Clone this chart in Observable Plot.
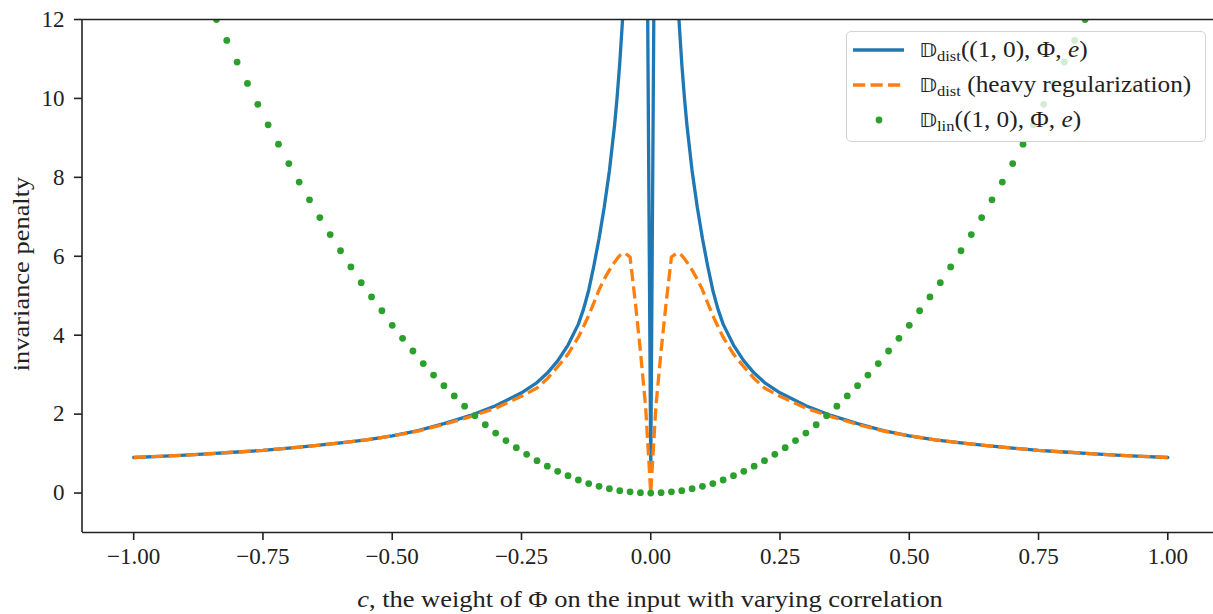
<!DOCTYPE html>
<html><head><meta charset="utf-8">
<script src="https://cdn.jsdelivr.net/npm/d3@7"></script>
<script src="https://cdn.jsdelivr.net/npm/@observablehq/plot@0.6"></script>
<style>
body{margin:0;background:#fff;}
#wrap{position:relative;width:1213px;height:614px;overflow:hidden;font-family:"Liberation Serif","DejaVu Serif",serif;color:#222;}
#legend{position:absolute;left:846px;top:31px;width:360px;height:111px;background:rgba(255,255,255,0.8);border:1.5px solid #d3d3d3;border-radius:5px;box-sizing:border-box;}
.row{position:absolute;left:0;height:30px;width:100%;}
.row svg{position:absolute;left:0;top:0;}
.row .t{position:absolute;left:72px;top:0;line-height:30px;font-size:23px;white-space:nowrap;transform:scaleX(1.1);transform-origin:0 50%;}
.bb{font-family:"DejaVu Sans","Noto Sans",sans-serif;font-size:20px;}
sub{font-size:15px;vertical-align:-4px;line-height:0;}
#ylab{position:absolute;left:22px;top:274px;transform:translate(-50%,-50%) rotate(-90deg) scaleX(1.15);font-size:23px;white-space:nowrap;}
#xlab{position:absolute;left:650px;top:600px;transform:translate(-50%,-50%) scaleX(1.15);font-size:23px;white-space:nowrap;}
</style></head><body><div id="wrap"></div>
<script>
// c values for the two D_dist curves
const cDist = [-1, -0.95, -0.9, -0.85, -0.8, -0.75, -0.7, -0.65, -0.6, -0.55, -0.5, -0.45, -0.4, -0.35, -0.3, -0.25, -0.22, -0.2, -0.18, -0.16, -0.14, -0.13, -0.12, -0.11, -0.1, -0.09, -0.08, -0.07, -0.065, -0.06, -0.055, -0.05, -0.04, -0.03, -0.02, -0.01,
  0,
  0.01, 0.02, 0.03, 0.04, 0.05, 0.055, 0.06, 0.065, 0.07, 0.08, 0.09, 0.1, 0.11, 0.12, 0.13, 0.14, 0.16, 0.18, 0.2, 0.22, 0.25, 0.3, 0.35, 0.4, 0.45, 0.5, 0.55, 0.6, 0.65, 0.7, 0.75, 0.8, 0.85, 0.9, 0.95, 1];
// D_dist((1,0), Phi, e)
const dist = [0.90, 0.93, 0.96, 1.00, 1.04, 1.08, 1.14, 1.20, 1.27, 1.35, 1.45, 1.58, 1.76, 1.96, 2.21, 2.54, 2.80, 3.04, 3.35, 3.75, 4.28, 4.66, 5.14, 5.76, 6.45, 7.24, 8.16, 9.32, 10.04, 10.88, 11.9, 13.05, 15.8, 19, 24, 20,
  0.6,
  20, 24, 19, 15.8, 13.05, 11.9, 10.88, 10.04, 9.32, 8.16, 7.24, 6.45, 5.76, 5.14, 4.66, 4.28, 3.75, 3.35, 3.04, 2.80, 2.54, 2.21, 1.96, 1.76, 1.58, 1.45, 1.35, 1.27, 1.20, 1.14, 1.08, 1.04, 1.00, 0.96, 0.93, 0.90];
// D_dist (heavy regularization)
const distHeavy = [0.90, 0.93, 0.96, 1.00, 1.04, 1.08, 1.14, 1.20, 1.27, 1.35, 1.45, 1.57, 1.74, 1.93, 2.15, 2.45, 2.66, 2.90, 3.20, 3.52, 3.95, 4.22, 4.50, 4.82, 5.15, 5.42, 5.65, 5.85, 5.94, 6.02, 6.07, 6.08, 5.98, 4.85, 3.60, 2.20,
  0,
  2.20, 3.60, 4.85, 5.98, 6.08, 6.07, 6.02, 5.94, 5.85, 5.65, 5.42, 5.15, 4.82, 4.50, 4.22, 3.95, 3.52, 3.20, 2.90, 2.66, 2.45, 2.15, 1.93, 1.74, 1.57, 1.45, 1.35, 1.27, 1.20, 1.14, 1.08, 1.04, 1.00, 0.96, 0.93, 0.90];
// c values for D_lin (dots)
const cLin = [-0.84, -0.82, -0.80, -0.78, -0.76, -0.74, -0.72, -0.70, -0.68, -0.66, -0.64, -0.62, -0.60, -0.58, -0.56, -0.54, -0.52, -0.50, -0.48, -0.46, -0.44, -0.42, -0.40, -0.38, -0.36, -0.34, -0.32, -0.30, -0.28, -0.26, -0.24, -0.22, -0.20, -0.18, -0.16, -0.14, -0.12, -0.10, -0.08, -0.06, -0.04, -0.02,
  0,
  0.02, 0.04, 0.06, 0.08, 0.10, 0.12, 0.14, 0.16, 0.18, 0.20, 0.22, 0.24, 0.26, 0.28, 0.30, 0.32, 0.34, 0.36, 0.38, 0.40, 0.42, 0.44, 0.46, 0.48, 0.50, 0.52, 0.54, 0.56, 0.58, 0.60, 0.62, 0.64, 0.66, 0.68, 0.70, 0.72, 0.74, 0.76, 0.78, 0.80, 0.82, 0.84];
// D_lin((1,0), Phi, e)
const lin = [12.0, 11.47, 10.92, 10.38, 9.85, 9.33, 8.84, 8.35, 7.88, 7.43, 6.98, 6.55, 6.14, 5.73, 5.33, 4.97, 4.62, 4.25, 3.92, 3.60, 3.28, 2.99, 2.72, 2.46, 2.20, 1.96, 1.73, 1.52, 1.33, 1.15, 0.98, 0.82, 0.68, 0.55, 0.44, 0.33, 0.24, 0.17, 0.11, 0.06, 0.03, 0.01,
  0,
  0.01, 0.03, 0.06, 0.11, 0.17, 0.24, 0.33, 0.44, 0.55, 0.68, 0.82, 0.98, 1.15, 1.33, 1.52, 1.73, 1.96, 2.20, 2.46, 2.72, 2.99, 3.28, 3.60, 3.92, 4.25, 4.62, 4.97, 5.33, 5.73, 6.14, 6.55, 6.98, 7.43, 7.88, 8.35, 8.84, 9.33, 9.85, 10.38, 10.92, 11.47, 12.0];

const xTicks = [-1, -0.75, -0.5, -0.25, 0, 0.25, 0.5, 0.75, 1];
const yTicks = [0, 2, 4, 6, 8, 10, 12];
const colors = ["#1f77b4", "#ff7f0e", "#2ca02c"];

const distData = cDist.map((c, i) => ({c, v: dist[i]}));
const heavyData = cDist.map((c, i) => ({c, v: distHeavy[i]}));
const linData = cLin.map((c, i) => ({c, v: lin[i]}));

const fmt = d => d.toFixed(2).replace("-", "\u2212");

const chart = Plot.plot({
  width: 1213, height: 614,
  marginLeft: 82, marginTop: 19, marginBottom: 82, marginRight: 0,
  x: {domain: [-1.1, 1.1], range: [81.5, 1219]},
  y: {domain: [-1, 12], range: [532, 19]},
  style: {fontFamily: '"Liberation Serif", serif', fontSize: "23px", color: "#222", background: "white"},
  marks: [
    Plot.line(distData, {x: "c", y: "v", stroke: colors[0], strokeWidth: 3.3, clip: true}),
    Plot.line(heavyData, {x: "c", y: "v", stroke: colors[1], strokeWidth: 3.3, strokeDasharray: "12.2,5.3", strokeLinecap: "butt", clip: true}),
    Plot.dot(linData, {x: "c", y: "v", r: 3.4, fill: colors[2], stroke: null, clip: true}),
    Plot.ruleX([-1.1], {stroke: "#222", strokeWidth: 1.6}),
    Plot.ruleY([-1], {stroke: "#222", strokeWidth: 1.6}),
    Plot.ruleY([12], {stroke: "#222", strokeWidth: 1.6}),
    Plot.axisX({ticks: xTicks, tickFormat: fmt, tickSize: 8, tickPadding: 7, label: null, strokeWidth: 1.6, stroke: "#222"}),
    Plot.axisY({ticks: yTicks, tickSize: 8, tickPadding: 10, label: null, strokeWidth: 1.6, stroke: "#222"})
  ]
});

const wrap = document.getElementById("wrap");
wrap.appendChild(chart);

const ylab = document.createElement("div");
ylab.id = "ylab"; ylab.textContent = "invariance penalty";
wrap.appendChild(ylab);
const xlab = document.createElement("div");
xlab.id = "xlab"; xlab.innerHTML = "<i>c</i>, the weight of Φ on the input with varying correlation";
wrap.appendChild(xlab);

// legend
const legend = document.createElement("div");
legend.id = "legend";
const rowsHtml = [
  {top: 3, sw: `<line x1="6" x2="57" y1="15" y2="15" stroke="${colors[0]}" stroke-width="3.3"/>`,
   txt: `<span class="bb">𝔻</span><sub>dist</sub>((1, 0), Φ, <i>e</i>)`},
  {top: 38, sw: `<line x1="6" x2="57" y1="15" y2="15" stroke="${colors[1]}" stroke-width="3.3" stroke-dasharray="12.2,5.3"/>`,
   txt: `<span class="bb">𝔻</span><sub>dist</sub> (heavy regularization)`},
  {top: 73, sw: `<circle cx="32" cy="15" r="3.4" fill="${colors[2]}"/>`,
   txt: `<span class="bb">𝔻</span><sub>lin</sub>((1, 0), Φ, <i>e</i>)`}
];
legend.innerHTML = rowsHtml.map(r => `<div class="row" style="top:${r.top}px"><svg width="65" height="30">${r.sw}</svg><div class="t">${r.txt}</div></div>`).join("");
wrap.appendChild(legend);
</script>
</body></html>
